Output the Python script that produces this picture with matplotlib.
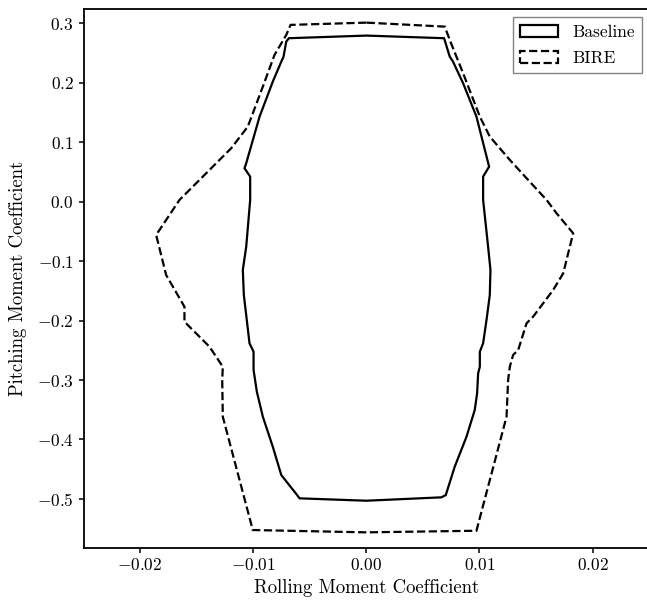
import matplotlib
matplotlib.use('Agg')
import numpy as np
import matplotlib.pyplot as plt
from matplotlib.patches import Polygon

plt.rcParams['font.family'] = 'serif'
plt.rcParams['font.serif'] = ['cmr10', 'DejaVu Serif']
plt.rcParams['mathtext.fontset'] = 'cm'
plt.rcParams['axes.formatter.use_mathtext'] = True

#envelope points (rolling, pitching), counterclockwise
baseline_roll = [0.0, -0.00685, -0.00708, -0.00732, -0.00752, -0.00827, -0.00944, -0.01062,
                 -0.01077, -0.01027, -0.01027, -0.01062, -0.01092, -0.01083, -0.01057, -0.01033,
                 -0.00997, -0.00997, -0.00968, -0.00915, -0.00827, -0.00752, -0.00694, -0.00635,
                 -0.00590, 0.0, 0.00664, 0.00702, 0.00781, 0.00885, 0.00958, 0.00979,
                 0.00988, 0.01003, 0.01003, 0.01032, 0.01062, 0.01091, 0.01097, 0.01076,
                 0.01032, 0.01032, 0.01085, 0.00973, 0.00855, 0.00766, 0.00737, 0.00687]
baseline_pitch = [0.2793, 0.2749, 0.2692, 0.2439, 0.2355, 0.2019, 0.1430, 0.0646,
                  0.0562, 0.0421, 0.0029, -0.0757, -0.1149, -0.1570, -0.1990, -0.2382,
                  -0.2524, -0.2831, -0.3197, -0.3617, -0.4122, -0.4598, -0.4738, -0.4879,
                  -0.4990, -0.5030, -0.4973, -0.4934, -0.4458, -0.3954, -0.3504, -0.3223,
                  -0.2887, -0.2776, -0.2524, -0.2382, -0.1990, -0.1570, -0.1149, -0.0757,
                  0.0029, 0.0421, 0.0589, 0.1430, 0.1992, 0.2355, 0.2439, 0.2749]

bire_roll = [0.0, -0.00670, -0.00708, -0.00812, -0.00915, -0.01048, -0.01195, -0.01475,
             -0.01652, -0.01858, -0.01770, -0.01608, -0.01608, -0.01387, -0.01269, -0.01274,
             -0.01269, -0.01004, 0.0, 0.00973, 0.01239, 0.01253, 0.01268, 0.01297,
             0.01342, 0.01416, 0.01474, 0.01651, 0.01740, 0.01828, 0.01681, 0.01593,
             0.01430, 0.01268, 0.01091, 0.01003, 0.00855, 0.00737, 0.00693]
bire_pitch = [0.3011, 0.2973, 0.2804, 0.2468, 0.1935, 0.1262, 0.0898, 0.0365,
              0.0029, -0.0560, -0.1233, -0.1767, -0.2019, -0.2439, -0.2776, -0.3000,
              -0.3617, -0.5523, -0.5562, -0.5535, -0.3617, -0.3000, -0.2776, -0.2579,
              -0.2495, -0.2046, -0.1935, -0.1486, -0.1205, -0.0532, -0.0195, 0.0029,
              0.0365, 0.0702, 0.1094, 0.1430, 0.2160, 0.2720, 0.2944]

fig = plt.figure(figsize=(6.47, 6.01), dpi=100)
ax = fig.add_axes([0.1291, 0.0887, 0.8743, 0.8963])

base = Polygon(np.column_stack([baseline_roll, baseline_pitch]), closed=True, fill=False,
               edgecolor='black', linewidth=1.6, linestyle='-', label='Baseline')
bire = Polygon(np.column_stack([bire_roll, bire_pitch]), closed=True, fill=False,
               edgecolor='black', linewidth=1.6, linestyle='--', label='BIRE')
ax.add_patch(base)
ax.add_patch(bire)

ax.set_xlim(-0.025, 0.025)
ax.set_ylim(-0.582, 0.324)
ax.set_xticks([-0.02, -0.01, 0.0, 0.01, 0.02])
ax.set_yticks([-0.5, -0.4, -0.3, -0.2, -0.1, 0.0, 0.1, 0.2, 0.3])
ax.tick_params(labelsize=12.5, width=1.1)
for s in ax.spines.values():
    s.set_linewidth(1.3)

ax.set_xlabel('Rolling Moment Coefficient', fontsize=13.5, labelpad=4)
ax.set_ylabel('Pitching Moment Coefficient', fontsize=13.5, labelpad=7)
ax.legend(loc='upper right', fontsize=12.5, fancybox=False, edgecolor='0.4',
          handlelength=2.2, labelspacing=0.65, bbox_to_anchor=(1.0023, 1.0004))

plt.savefig('out.png', dpi=100)
